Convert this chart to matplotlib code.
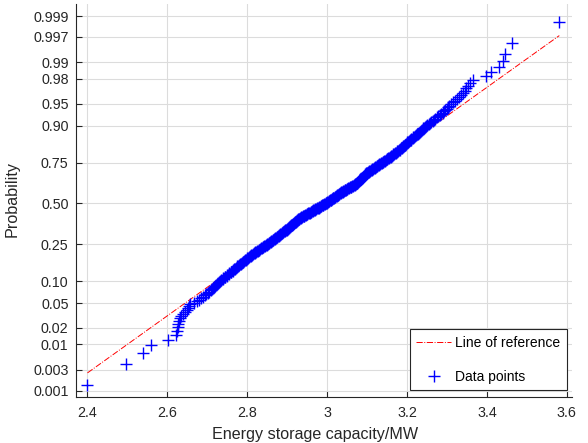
import numpy as np
import matplotlib
matplotlib.use("Agg")
import matplotlib.pyplot as plt
from statistics import NormalDist

plt.rcParams['font.family'] = ['Liberation Sans', 'DejaVu Sans']

# Sorted sample values (energy storage capacity, MW)
capacity = [
    2.401, 2.497, 2.541, 2.559, 2.602, 2.622, 2.625, 2.627, 2.628, 2.630,
    2.632, 2.636, 2.640, 2.645, 2.650, 2.652, 2.655, 2.658, 2.668, 2.675,
    2.680, 2.685, 2.690,
    2.694, 2.698, 2.702, 2.706, 2.710,
    2.713, 2.715, 2.718, 2.720, 2.723, 2.726, 2.728, 2.731, 2.733, 2.736, 2.739, 2.741,
    2.744, 2.746, 2.749, 2.751, 2.754, 2.756, 2.759, 2.761, 2.764, 2.766,
    2.768, 2.770, 2.772, 2.774, 2.776, 2.778, 2.780, 2.783, 2.785, 2.787, 2.789, 2.791, 2.793, 2.795, 2.797,
    2.799, 2.801, 2.803, 2.805, 2.807, 2.809, 2.811, 2.813, 2.815, 2.817, 2.819, 2.821, 2.823, 2.825,
    2.827, 2.829, 2.831, 2.833, 2.835, 2.837, 2.839, 2.841, 2.843, 2.845, 2.847, 2.849, 2.851, 2.853,
    2.855, 2.856, 2.858, 2.859, 2.861, 2.863, 2.864, 2.866, 2.867, 2.869, 2.871, 2.872, 2.874, 2.875,
    2.877, 2.879, 2.880, 2.882, 2.883, 2.885, 2.887, 2.888, 2.890, 2.891, 2.893, 2.895, 2.896, 2.898,
    2.899, 2.901, 2.902, 2.903, 2.904, 2.906, 2.907, 2.908, 2.909, 2.911, 2.912, 2.913, 2.914, 2.916,
    2.917, 2.918, 2.919, 2.921, 2.922, 2.923, 2.924, 2.926, 2.927, 2.928, 2.929, 2.931, 2.932,
    2.934, 2.936, 2.938, 2.940, 2.942, 2.943, 2.945, 2.947, 2.949, 2.951, 2.953, 2.955, 2.957, 2.959,
    2.961, 2.962, 2.964, 2.966,
    2.968, 2.970, 2.971, 2.973, 2.975, 2.977, 2.979, 2.980, 2.982, 2.984, 2.986, 2.988, 2.989, 2.991,
    2.993, 2.995, 2.997,
    2.998, 3.000, 3.001, 3.003, 3.004, 3.006, 3.007, 3.009, 3.010, 3.012, 3.013, 3.015, 3.016, 3.018,
    3.019, 3.021, 3.022, 3.024, 3.025, 3.027, 3.028, 3.030, 3.031, 3.033, 3.034, 3.036, 3.037, 3.039, 3.040,
    3.042, 3.044, 3.046, 3.048, 3.050, 3.051, 3.053, 3.055, 3.057, 3.059, 3.061, 3.063, 3.065, 3.067,
    3.069, 3.070, 3.072, 3.074,
    3.075, 3.076, 3.077, 3.078, 3.080, 3.081, 3.082, 3.083, 3.084, 3.085, 3.086, 3.087, 3.088, 3.089,
    3.091, 3.092, 3.093, 3.094, 3.095, 3.096, 3.097, 3.098, 3.099,
    3.101, 3.103, 3.104, 3.106, 3.108, 3.110, 3.112, 3.113, 3.115, 3.117, 3.119, 3.121, 3.122, 3.124,
    3.126, 3.128, 3.130, 3.131, 3.133, 3.135, 3.137, 3.139, 3.141,
    3.143, 3.145, 3.147, 3.149, 3.151, 3.153, 3.155, 3.157, 3.159, 3.161, 3.162, 3.164, 3.166, 3.168,
    3.170, 3.172, 3.174, 3.176, 3.178, 3.180,
    3.182, 3.183, 3.185, 3.187, 3.189, 3.190, 3.192, 3.194, 3.195, 3.197, 3.199, 3.200, 3.202,
    3.204, 3.207, 3.209, 3.211, 3.214, 3.216, 3.218, 3.220, 3.223, 3.225, 3.227, 3.230, 3.232, 3.234,
    3.237, 3.239, 3.241, 3.243, 3.246, 3.248, 3.250,
    3.254, 3.257, 3.261, 3.264, 3.268, 3.271, 3.275, 3.278, 3.282, 3.285, 3.289, 3.292, 3.296, 3.299,
    3.303, 3.306, 3.310,
    3.315, 3.320, 3.325, 3.330,
    3.336, 3.340, 3.344, 3.348, 3.352, 3.357, 3.366, 3.397, 3.409, 3.431, 3.441, 3.445, 3.462, 3.581,
]

prob_ticks = [0.001, 0.003, 0.01, 0.02, 0.05, 0.10, 0.25, 0.50, 0.75, 0.90, 0.95, 0.98, 0.99, 0.997, 0.999]
prob_labels = ['0.001', '0.003', '0.01', '0.02', '0.05', '0.10', '0.25', '0.50', '0.75', '0.90',
               '0.95', '0.98', '0.99', '0.997', '0.999']
x_ticks = [2.4, 2.6, 2.8, 3.0, 3.2, 3.4, 3.6]
x_labels = ['2.4', '2.6', '2.8', '3', '3.2', '3.4', '3.6']

nd = NormalDist()
x = np.sort(np.array(capacity))
n = len(x)
pp = (np.arange(1, n + 1) - 0.5) / n
z = np.array([nd.inv_cdf(p) for p in pp])

# reference line through the quartiles, spanning the data range
q1, q3 = np.quantile(x, [0.25, 0.75])
z1, z3 = nd.inv_cdf(0.25), nd.inv_cdf(0.75)
slope = (z3 - z1) / (q3 - q1)
xr = np.array([x.min(), x.max()])
zr = z1 + slope * (xr - q1)

W, H = 588, 443
fig = plt.figure(figsize=(W / 100, H / 100), dpi=100)
ax = fig.add_axes([75.5 / W, 1 - 397.3 / H, 496.2 / W, 393.3 / H])

ax.plot(xr, zr, linestyle='-.', color='red', lw=0.7, label='Line of reference', zorder=2)
ax.plot(x, z, linestyle='none', marker='+', color='blue', ms=8, mew=1.0,
        label='Data points', zorder=3)

ax.set_xlim(2.371, 3.612)
ax.set_ylim(-3.20, 3.29)
ax.set_yticks([nd.inv_cdf(p) for p in prob_ticks])
ax.set_yticklabels(prob_labels)
ax.set_xticks(x_ticks)
ax.set_xticklabels(x_labels)

for s in ['top', 'right']:
    ax.spines[s].set_visible(False)
for s in ['left', 'bottom']:
    ax.spines[s].set_color('#262626')
    ax.spines[s].set_linewidth(0.8)

ax.tick_params(axis='both', direction='in', length=4, width=0.8, colors='#262626',
               labelsize=10.3, labelcolor='#262626')
ax.tick_params(axis='x', pad=6)
ax.tick_params(axis='y', pad=5)
ax.grid(True, color='#dcdcdc', lw=0.8)
ax.set_axisbelow(True)

ax.set_xlabel('Energy storage capacity/MW', fontsize=11.6, color='#262626')
ax.xaxis.set_label_coords(0.483, -0.075)
ax.set_ylabel('Probability', fontsize=11.6, color='#262626')
ax.yaxis.set_label_coords(-0.113, 0.505)

leg = ax.legend(loc='lower right', bbox_to_anchor=(0.990, 0.0186), borderaxespad=0,
                fontsize=10, frameon=True, fancybox=False, framealpha=1,
                edgecolor='#262626', handlelength=2.5, labelspacing=1.45,
                borderpad=0.45, handletextpad=0.3)
leg.get_frame().set_linewidth(0.8)

fig.savefig('out.png', dpi=100)
